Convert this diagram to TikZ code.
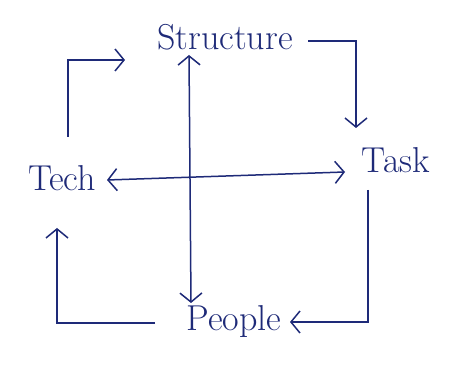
\documentclass[tikz,border=0pt]{standalone}
\usetikzlibrary{arrows.meta,calc}
\definecolor{ink}{HTML}{1E2A78}
\begin{document}
\begin{tikzpicture}[x=1pt,y=-1pt,
  lbl/.style={inner sep=0pt,text=ink,font=\fontsize{36}{40}\selectfont},
  arr/.style={draw=ink,line width=1.5pt,-{Straight Barb[length=9pt,width=22pt]}},
  darr/.style={draw=ink,line width=1.5pt,{Straight Barb[length=9pt,width=22pt]}-{Straight Barb[length=9pt,width=22pt]}}]
\useasboundingbox[fill=white] (0,0) rectangle (461,371);
\node[lbl] (structure) at (225,37) {Structure};
\node[lbl] (tech) at (62,178) {Tech};
\node[lbl] (task) at (396,160) {Task};
\node[lbl] (people) at (234,322) {People};
\draw[arr] ($(tech.center)+(6,-41)$) |- ($(structure.center)+(-100,23)$);
\draw[arr] ($(structure.center)+(83,4)$) -| ($(task.center)+(-40,-32)$);
\draw[arr] ($(task.center)+(-28,30)$) |- ($(people.center)+(56,0)$);
\draw[arr] ($(people.center)+(-79,1)$) -| ($(tech.center)+(-5,50)$);
\draw[darr] ($(structure.center)+(-36,18)$) -- ($(people.center)+(-43,-19)$);
\draw[darr] ($(tech.center)+(45,2)$) -- ($(task.center)+(-51,12)$);
\end{tikzpicture}
\end{document}
